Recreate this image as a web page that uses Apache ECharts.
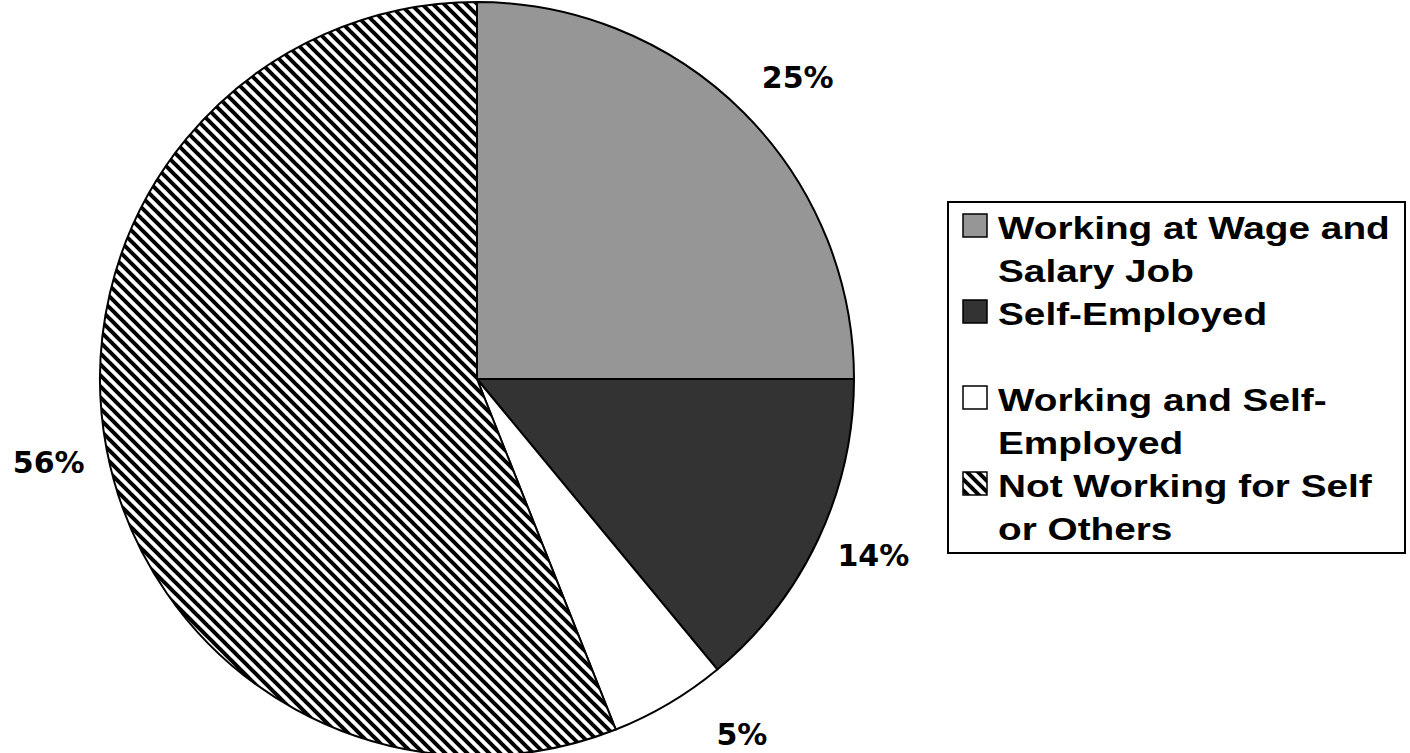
<!DOCTYPE html>
<html>
<head>
<meta charset="utf-8">
<script src="https://cdn.jsdelivr.net/npm/echarts@6/dist/echarts.min.js"></script>
<style>
html,body{margin:0;padding:0;background:#fff;}
#chart{width:1410px;height:753px;}
</style>
</head>
<body>
<div id="chart"></div>
<script>
// ---- data ----
const categories = ['Working at Wage and\nSalary Job', 'Self-Employed', 'Working and Self-\nEmployed', 'Not Working for Self\nor Others'];
const values = [25, 14, 5, 56];

// ---- styling ----
function hatchCanvas() {
  const s = 11;
  const c = document.createElement('canvas');
  c.width = s; c.height = s;
  const ctx = c.getContext('2d');
  ctx.fillStyle = '#fff';
  ctx.fillRect(0, 0, s, s);
  ctx.strokeStyle = '#000';
  ctx.lineWidth = 4;
  for (const k of [-1, 0, 1]) {
    ctx.beginPath();
    ctx.moveTo(-2, k * s - 2);
    ctx.lineTo(s + 2, s + k * s + 2);
    ctx.stroke();
  }
  return c;
}
const hatch = { image: hatchCanvas(), repeat: 'repeat', imageWidth: 11, imageHeight: 11 };
const fills = ['#969696', '#333333', '#ffffff', hatch];
const FONT = '"Liberation Sans", Arial, sans-serif';
const LABEL_FONT = '"DejaVu Sans", "Liberation Sans", sans-serif';
// small label nudges (layout only)
const labelNudge = [[11, 8], [0, -10], [42, -22], [2, 1]];

// legend layout
const LEG = { x: 948, y: 202, w: 457, h: 351, markX: 963, textX: 998, firstLineCenter: 228, lineH: 43, stretch: 1.25 };

const legendEls = [{
  type: 'rect',
  shape: { x: LEG.x, y: LEG.y, width: LEG.w, height: LEG.h },
  style: { fill: '#fff', stroke: '#000', lineWidth: 2 }
}];
categories.forEach((name, i) => {
  const cy = LEG.firstLineCenter + i * 2 * LEG.lineH;
  legendEls.push({
    type: 'rect',
    shape: { x: LEG.markX, y: cy - 14, width: 24, height: 23 },
    style: { fill: fills[i], stroke: '#000', lineWidth: 1.5 }
  });
  legendEls.push({
    type: 'text',
    x: LEG.textX,
    y: cy - LEG.lineH / 2,
    scaleX: LEG.stretch,
    style: {
      text: name,
      fill: '#000',
      font: 'bold 31px ' + FONT,
      lineHeight: LEG.lineH,
      verticalAlign: 'top',
      align: 'left'
    }
  });
});

const chart = echarts.init(document.getElementById('chart'), null, { renderer: 'svg' });
chart.setOption({
  animation: false,
  backgroundColor: '#fff',
  series: [{
    type: 'pie',
    center: [477, 379],
    radius: 377,
    startAngle: 90,
    clockwise: true,
    avoidLabelOverlap: false,
    silent: true,
    emphasis: { disabled: true },
    data: categories.map((n, i) => ({ name: n, value: values[i], itemStyle: { color: fills[i] } })),
    itemStyle: { borderColor: '#000', borderWidth: 2 },
    label: {
      show: true,
      position: 'outside',
      formatter: '{c}%',
      fontFamily: LABEL_FONT,
      fontWeight: 'bold',
      fontSize: 30,
      lineHeight: 30,
      color: '#000',
      distanceToLabelLine: 0
    },
    labelLine: { show: false, length: 61, length2: 0 },
    labelLayout: function (p) {
      const n = labelNudge[p.dataIndex] || [0, 0];
      return { align: 'center', verticalAlign: 'middle', dx: n[0], dy: n[1] };
    }
  }],
  graphic: { elements: legendEls }
});
</script>
</body>
</html>
